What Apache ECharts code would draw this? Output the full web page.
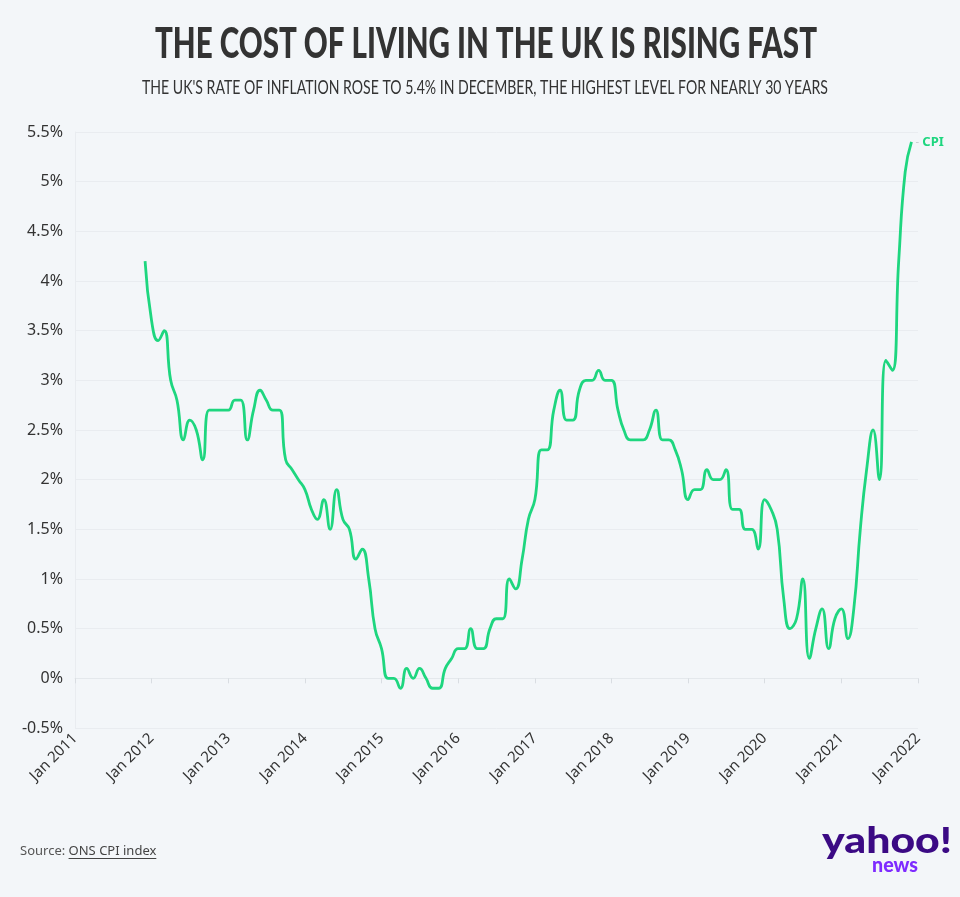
<!DOCTYPE html>
<html>
<head>
<meta charset="utf-8">
<script src="https://cdn.jsdelivr.net/npm/echarts@6/dist/echarts.min.js"></script>
<style>
  html, body { margin: 0; padding: 0; background: #f3f6f9; }
  #chart { width: 960px; height: 897px; }
</style>
</head>
<body>
<div id="chart"></div>
<script>
// ---- DATA ----
const titleText = 'THE COST OF LIVING IN THE UK IS RISING FAST';
const subtitleText = "THE UK'S RATE OF INFLATION ROSE TO 5.4% IN DECEMBER, THE HIGHEST LEVEL FOR NEARLY 30 YEARS";
const seriesName = 'CPI';
// months from Dec 2011 to Dec 2021
const months = [
  '2011-12',
  '2012-01','2012-02','2012-03','2012-04','2012-05','2012-06','2012-07','2012-08','2012-09','2012-10','2012-11','2012-12',
  '2013-01','2013-02','2013-03','2013-04','2013-05','2013-06','2013-07','2013-08','2013-09','2013-10','2013-11','2013-12',
  '2014-01','2014-02','2014-03','2014-04','2014-05','2014-06','2014-07','2014-08','2014-09','2014-10','2014-11','2014-12',
  '2015-01','2015-02','2015-03','2015-04','2015-05','2015-06','2015-07','2015-08','2015-09','2015-10','2015-11','2015-12',
  '2016-01','2016-02','2016-03','2016-04','2016-05','2016-06','2016-07','2016-08','2016-09','2016-10','2016-11','2016-12',
  '2017-01','2017-02','2017-03','2017-04','2017-05','2017-06','2017-07','2017-08','2017-09','2017-10','2017-11','2017-12',
  '2018-01','2018-02','2018-03','2018-04','2018-05','2018-06','2018-07','2018-08','2018-09','2018-10','2018-11','2018-12',
  '2019-01','2019-02','2019-03','2019-04','2019-05','2019-06','2019-07','2019-08','2019-09','2019-10','2019-11','2019-12',
  '2020-01','2020-02','2020-03','2020-04','2020-05','2020-06','2020-07','2020-08','2020-09','2020-10','2020-11','2020-12',
  '2021-01','2021-02','2021-03','2021-04','2021-05','2021-06','2021-07','2021-08','2021-09','2021-10','2021-11','2021-12'
];
const cpi = [
  4.2,
  3.6,3.4,3.5,3.0,2.8,2.4,2.6,2.5,2.2,2.7,2.7,2.7,
  2.7,2.8,2.8,2.4,2.7,2.9,2.8,2.7,2.7,2.2,2.1,2.0,
  1.9,1.7,1.6,1.8,1.5,1.9,1.6,1.5,1.2,1.3,1.0,0.5,
  0.3,0.0,0.0,-0.1,0.1,0.0,0.1,0.0,-0.1,-0.1,0.1,0.2,
  0.3,0.3,0.5,0.3,0.3,0.5,0.6,0.6,1.0,0.9,1.2,1.6,
  1.8,2.3,2.3,2.7,2.9,2.6,2.6,2.9,3.0,3.0,3.1,3.0,
  3.0,2.7,2.5,2.4,2.4,2.4,2.5,2.7,2.4,2.4,2.3,2.1,
  1.8,1.9,1.9,2.1,2.0,2.0,2.1,1.7,1.7,1.5,1.5,1.3,
  1.8,1.7,1.5,0.8,0.5,0.6,1.0,0.2,0.5,0.7,0.3,0.6,
  0.7,0.4,0.7,1.5,2.1,2.5,2.0,3.2,3.1,4.2,5.1,5.4
];
const xMin = '2011-01-01';
const xMax = '2022-01-01';
const yMin = -0.5, yMax = 5.5, yStep = 0.5;
const sourceLabel = 'Source: ';
const sourceLink = 'ONS CPI index';

// ---- helpers ----
const measureCtx = document.createElement('canvas').getContext('2d');
function textWidth(str, font) { measureCtx.font = font; return measureCtx.measureText(str).width; }
function fitScale(str, font, target) { return target / textWidth(str, font); }

const titleFont = '900 42px Lato';
const subFont = '400 19px Lato';
const yahooFont = '900 36px Lato';
const newsFont = '900 21px Lato';
const srcFont = '13px "Noto Sans"';

const green = '#1ed67f';
const chart = echarts.init(document.getElementById('chart'), null, { renderer: 'canvas' });

const srcW = textWidth(sourceLabel, srcFont);
const linkW = textWidth(sourceLink, srcFont);

chart.setOption({
  backgroundColor: '#f3f6f9',
  animation: false,
  grid: { left: 75, right: 42, top: 132, bottom: 169, containLabel: false },
  xAxis: {
    type: 'time',
    min: xMin, max: xMax,
    minInterval: 365 * 86400000,
    maxInterval: 366 * 86400000,
    axisLine: { show: true, lineStyle: { color: '#e4e8ec', width: 1 } },
    axisTick: { show: true, length: 5, lineStyle: { color: '#d9dde2' } },
    splitLine: { show: false },
    axisLabel: {
      rotate: 45,
      margin: 8,
      color: '#333',
      fontSize: 15,
      fontFamily: '"Noto Sans"',
      hideOverlap: false,
      showMinLabel: true,
      showMaxLabel: true,
      formatter: function (v) { return 'Jan ' + new Date(v).getFullYear(); }
    }
  },
  yAxis: {
    type: 'value',
    min: yMin, max: yMax, interval: yStep,
    axisLine: { show: true, lineStyle: { color: '#e9ecf0' } },
    axisTick: { show: false },
    splitLine: { show: true, lineStyle: { color: '#e9ecf0', width: 1 } },
    axisLabel: {
      margin: 12,
      color: '#333',
      fontSize: 16,
      fontFamily: '"Noto Sans"',
      formatter: function (v) { return (Math.round(v * 10) / 10) + '%'; }
    }
  },
  series: [{
    name: seriesName,
    type: 'line',
    data: months.map((m, i) => [m + '-01', cpi[i]]),
    showSymbol: false,
    smooth: 0.5,
    lineStyle: { color: green, width: 2.8 },
    endLabel: {
      show: true,
      distance: 4,
      formatter: '{d|-} {c|' + seriesName + '}',
      rich: {
        d: { color: '#c4c8cc', fontSize: 11, fontFamily: '"Noto Sans"' },
        c: { color: green, fontSize: 13, fontWeight: 'bold', fontFamily: '"Noto Sans"' }
      }
    }
  }],
  graphic: [
    {
      type: 'text', x: 486, y: 44,
      scaleX: fitScale(titleText, titleFont, 662), scaleY: 1,
      style: { text: titleText, font: titleFont, fill: '#333', align: 'center', verticalAlign: 'middle' }
    },
    {
      type: 'text', x: 485, y: 88,
      scaleX: fitScale(subtitleText, subFont, 686), scaleY: 1,
      style: { text: subtitleText, font: subFont, fill: '#333', align: 'center', verticalAlign: 'middle' }
    },
    {
      type: 'text', x: 20, y: 851,
      style: { text: sourceLabel, font: srcFont, fill: '#555', align: 'left', verticalAlign: 'middle' }
    },
    {
      type: 'text', x: 20 + srcW, y: 851,
      style: { text: sourceLink, font: srcFont, fill: '#444', align: 'left', verticalAlign: 'middle' }
    },
    {
      type: 'line',
      shape: { x1: 20 + srcW, y1: 858.5, x2: 20 + srcW + linkW, y2: 858.5 },
      style: { stroke: '#444', lineWidth: 1 }
    },
    {
      type: 'text', x: 822, y: 841,
      scaleX: fitScale('yahoo!', yahooFont, 130), scaleY: 1,
      style: { text: 'yahoo!', font: yahooFont, fill: '#3b0a84', align: 'left', verticalAlign: 'middle' }
    },
    {
      type: 'text', x: 872, y: 865,
      scaleX: fitScale('news', newsFont, 46), scaleY: 1,
      style: { text: 'news', font: newsFont, fill: '#7e2bff', align: 'left', verticalAlign: 'middle' }
    }
  ]
});
</script>
</body>
</html>
